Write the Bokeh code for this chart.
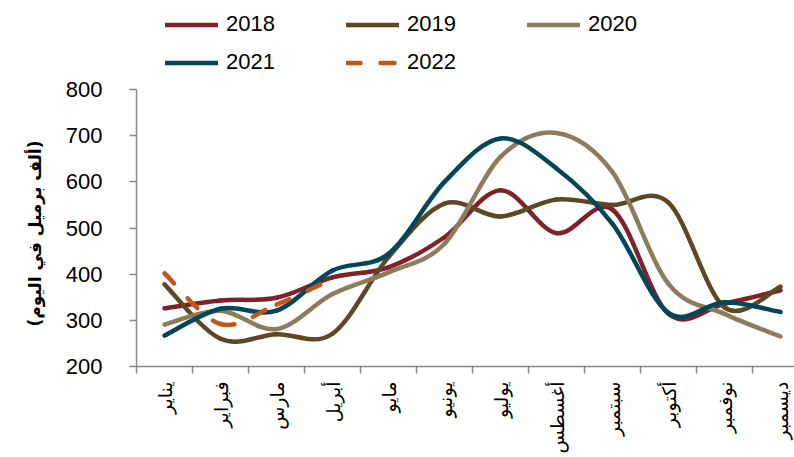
import numpy as np
from bokeh.plotting import figure
from bokeh.models import ColumnDataSource, Range1d, FixedTicker, Legend, LegendItem, Title
from bokeh.embed import file_html
from bokeh.resources import INLINE

months = ["يناير", "فبراير", "مارس", "أبريل", "مايو", "يونيو",
          "يوليو", "أغسطس", "سبتمبر", "أكتوبر", "نوفمبر", "ديسمبر"]

y2018 = [326, 343, 349, 393, 415, 480, 582, 489, 540, 314, 336, 365]
y2019 = [378, 260, 270, 271, 437, 553, 525, 562, 550, 555, 328, 373]
y2020 = [291, 321, 281, 357, 404, 466, 654, 706, 621, 379, 314, 265]
y2021 = [267, 325, 321, 408, 444, 600, 694, 629, 509, 316, 339, 318]
y2022 = [402, 292, 334, 390]

series = [
    ("2018", y2018, "#7E2129", None),
    ("2019", y2019, "#5C4824", None),
    ("2020", y2020, "#8D7B5C", None),
    ("2021", y2021, "#03465A", None),
    ("2022", y2022, "#C4561A", "14 20"),
]

y_title = "(ألف برميل في اليوم)"
y_ticks = [200, 300, 400, 500, 600, 700, 800]

def bezier_source(vals):
    n = len(vals)
    xs = [i + 0.5 for i in range(n)]
    d = dict(x0=[], y0=[], x1=[], y1=[], cx0=[], cy0=[], cx1=[], cy1=[])
    for i in range(n - 1):
        a = max(i - 1, 0)
        b = min(i + 2, n - 1)
        d["x0"].append(xs[i]); d["y0"].append(vals[i])
        d["x1"].append(xs[i + 1]); d["y1"].append(vals[i + 1])
        d["cx0"].append(xs[i] + (xs[i + 1] - xs[a]) / 6)
        d["cy0"].append(vals[i] + (vals[i + 1] - vals[a]) / 6)
        d["cx1"].append(xs[i + 1] - (xs[b] - xs[i]) / 6)
        d["cy1"].append(vals[i + 1] - (vals[b] - vals[i]) / 6)
    return ColumnDataSource(d)

# frame spans from the canvas top; the value axis itself is bounded to 200..800
p = figure(width=794, height=457, output_backend="svg", toolbar_location=None,
           x_range=Range1d(0, len(months) - 0.25), y_range=Range1d(200, 993),
           min_border_left=136, min_border_right=0, min_border_top=0,
           min_border_bottom=91)
p.outline_line_color = None
p.grid.grid_line_color = None
p.background_fill_color = "white"
p.border_fill_color = "white"

renderers = {}
for name, vals, color, dash in series:
    kw = dict(line_color=color, line_width=4.5, line_cap="round", line_join="round")
    if dash:
        kw["line_dash"] = dash
    r = p.bezier(x0="x0", y0="y0", x1="x1", y1="y1", cx0="cx0", cy0="cy0",
                 cx1="cx1", cy1="cy1", source=bezier_source(vals), **kw)
    renderers[name] = r

# x axis
xa = p.xaxis[0]
xa.ticker = FixedTicker(ticks=[i + 0.5 for i in range(len(months))],
                        minor_ticks=list(range(len(months) + 1)))
xa.major_label_overrides = {i + 0.5: m for i, m in enumerate(months)}
xa.major_tick_out = 0
xa.major_tick_in = 0
xa.minor_tick_out = 7
xa.minor_tick_in = 0
xa.minor_tick_line_color = "#898989"
xa.minor_tick_line_width = 1.5
xa.axis_line_color = "#898989"
xa.axis_line_width = 1.5
xa.major_label_orientation = np.pi / 2
xa.major_label_standoff = 8
xa.major_label_text_font = "DejaVu Sans"
xa.major_label_text_font_size = "19px"
xa.major_label_text_color = "black"

# y axis
ya = p.yaxis[0]
ya.bounds = (y_ticks[0], y_ticks[-1])
ya.ticker = FixedTicker(ticks=y_ticks)
ya.minor_tick_line_color = None
ya.major_tick_out = 7
ya.major_tick_in = 0
ya.major_tick_line_color = "#898989"
ya.major_tick_line_width = 1.5
ya.axis_line_color = "#898989"
ya.axis_line_width = 1.5
ya.major_label_standoff = 27
ya.major_label_text_font = "Liberation Sans"
ya.major_label_text_font_size = "22px"
ya.major_label_text_color = "black"

# value-axis title, centred on the 200..800 span
p.add_layout(Title(text=y_title, align="left", offset=40, standoff=35,
                   text_font="DejaVu Sans", text_font_style="bold",
                   text_font_size="17px", text_color="black"), "left")

legend = Legend(items=[LegendItem(label=s[0], renderers=[renderers[s[0]]]) for s in series],
                location=(29, 291), orientation="horizontal", ncols=3,
                padding=0, margin=0, spacing=12,
                glyph_width=53, glyph_height=25, label_standoff=8,
                label_width=108, label_height=25,
                label_text_font="Liberation Sans", label_text_font_size="22px",
                label_text_color="black", border_line_color=None,
                background_fill_alpha=0)
p.add_layout(legend, "center")

open("out.html", "w").write(file_html(p, INLINE))
